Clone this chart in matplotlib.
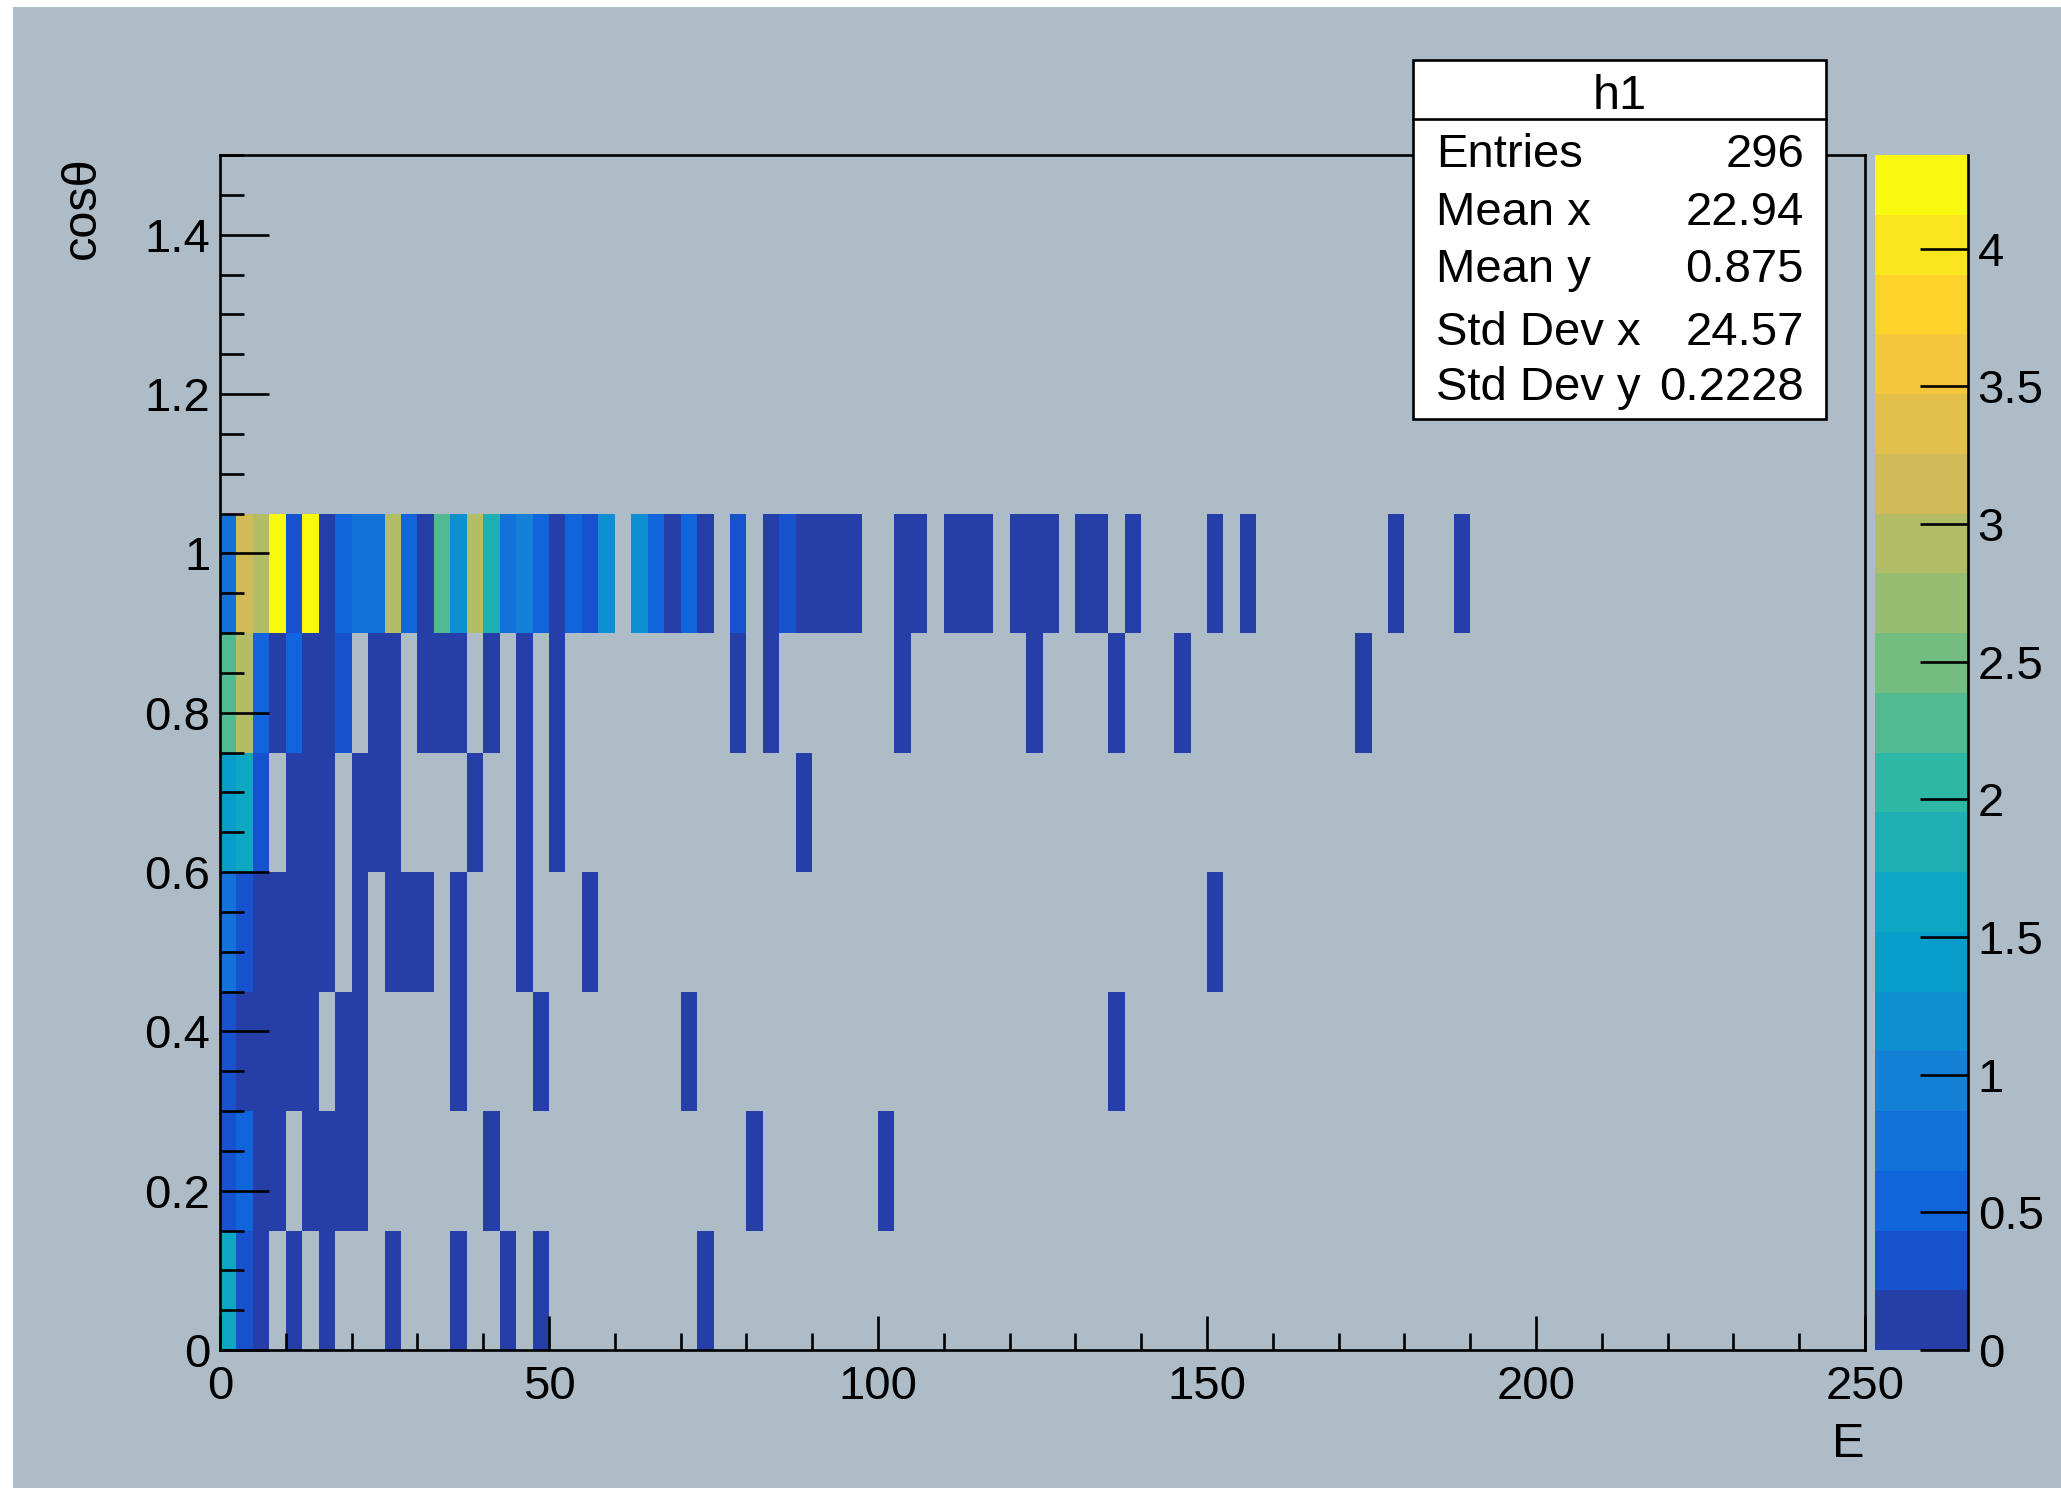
import numpy as np
import matplotlib
matplotlib.use("Agg")
import matplotlib.pyplot as plt
from matplotlib.colors import ListedColormap, BoundaryNorm
from matplotlib.patches import Rectangle
from matplotlib.lines import Line2D
from matplotlib.ticker import MultipleLocator, FuncFormatter

plt.rcParams['font.family'] = ['Liberation Sans', 'DejaVu Sans']

# ---------------- data ----------------
E_edges = np.linspace(0, 250, 101)      # 100 bins of 2.5
cos_edges = np.linspace(0, 1.5, 11)     # 10 bins of 0.15
E_bin = 2.5
z_max = 4.34                            # colour-axis maximum
n_levels = 20

# each row: lower E edge of the filled bins and the bin content
row0_cos = 0.075
row0_E = [0, 2.5, 5, 10, 15, 25, 35, 42.5, 47.5, 72.5]
row0_w = [1.6, 0.3, 0.1, 0.1, 0.1, 0.1, 0.1, 0.1, 0.1, 0.1]

row1_cos = 0.225
row1_E = [0, 2.5, 5, 7.5, 12.5, 15, 17.5, 20, 40, 80, 100]
row1_w = [0.3, 0.55, 0.1, 0.1, 0.1, 0.1, 0.1, 0.1, 0.1, 0.1, 0.1]

row2_cos = 0.375
row2_E = [0, 2.5, 5, 7.5, 10, 12.5, 17.5, 20, 35, 47.5, 70, 135]
row2_w = [0.3, 0.1, 0.1, 0.1, 0.1, 0.1, 0.1, 0.1, 0.1, 0.1, 0.1, 0.1]

row3_cos = 0.525
row3_E = [0, 2.5, 5, 7.5, 10, 12.5, 15, 20, 25, 27.5, 30, 35, 45, 55, 150]
row3_w = [0.75, 0.3, 0.1, 0.1, 0.1, 0.1, 0.1, 0.1, 0.1, 0.1, 0.1, 0.1, 0.1, 0.1, 0.1]

row4_cos = 0.675
row4_E = [0, 2.5, 5, 10, 12.5, 15, 20, 22.5, 25, 37.5, 45, 50, 87.5]
row4_w = [1.4, 1.6, 0.3, 0.1, 0.1, 0.1, 0.1, 0.1, 0.1, 0.1, 0.1, 0.1, 0.1]

row5_cos = 0.825
row5_E = [0, 2.5, 5, 7.5, 10, 12.5, 15, 17.5, 22.5, 25, 30, 32.5, 35, 40, 45, 50,
          77.5, 82.5, 102.5, 122.5, 135, 145, 172.5]
row5_w = [2.3, 2.95, 0.55, 0.1, 0.55, 0.1, 0.1, 0.3, 0.1, 0.1, 0.1, 0.1, 0.1, 0.1, 0.1, 0.1,
          0.1, 0.1, 0.1, 0.1, 0.1, 0.1, 0.1]

row6_cos = 0.975
row6_E = [0, 2.5, 5, 7.5, 10, 12.5, 15, 17.5, 20, 22.5, 25, 27.5, 30, 32.5, 35, 37.5,
          40, 42.5, 45, 47.5, 50, 52.5, 55, 57.5, 62.5, 65, 67.5, 70, 72.5, 77.5,
          82.5, 85, 87.5, 90, 92.5, 95, 102.5, 105, 110, 112.5, 115, 120, 122.5, 125,
          130, 132.5, 137.5, 150, 155, 177.5, 187.5]
row6_w = [0.75, 3.15, 2.95, 4.25, 0.3, 4.25, 0.1, 0.55, 0.75, 0.75, 2.95, 0.55, 0.1, 2.3, 1.2, 2.95,
          1.85, 0.75, 1.0, 0.55, 0.1, 0.55, 0.3, 1.2, 1.2, 0.55, 0.1, 0.55, 0.1, 0.3,
          0.1, 0.3, 0.1, 0.1, 0.1, 0.1, 0.1, 0.1, 0.1, 0.1, 0.1, 0.1, 0.1, 0.1,
          0.1, 0.1, 0.1, 0.1, 0.1, 0.1, 0.1]

stat_labels = ['Entries', 'Mean x', 'Mean y', 'Std Dev x', 'Std Dev y']
stat_values = ['296', '22.94', '0.875', '24.57', '0.2228']
hist_name = 'h1'
x_title = 'E'
y_title = 'cosθ'

# ---------------- ROOT kBird palette ----------------
bird_stops = [0.0000, 0.1250, 0.2500, 0.3750, 0.5000, 0.6250, 0.7500, 0.8750, 1.0000]
bird_r = [0.2082, 0.0592, 0.0780, 0.0232, 0.1802, 0.5301, 0.8186, 0.9956, 0.9764]
bird_g = [0.1664, 0.3599, 0.5041, 0.6419, 0.7178, 0.7492, 0.7328, 0.7862, 0.9832]
bird_b = [0.5293, 0.8684, 0.8385, 0.7914, 0.6425, 0.4662, 0.3499, 0.1968, 0.0539]


def root_gradient(stops, r, g, b, n=255):
    cols = []
    for k in range(1, len(stops)):
        ncg = int(np.floor(n * stops[k]) - np.floor(n * stops[k - 1]))
        for c in range(ncg):
            f = c / ncg
            cols.append((r[k - 1] + (r[k] - r[k - 1]) * f,
                         g[k - 1] + (g[k] - g[k - 1]) * f,
                         b[k - 1] + (b[k] - b[k - 1]) * f))
    return cols


pal = root_gradient(bird_stops, bird_r, bird_g, bird_b)
level_cols = [pal[min(int((i + 0.99) * len(pal) / n_levels), len(pal) - 1)] for i in range(n_levels)]
cmap = ListedColormap(level_cols)
norm = BoundaryNorm(np.linspace(0, z_max, n_levels + 1), n_levels)

# ---------------- assemble histogram ----------------
E_all, cos_all, w_all = [], [], []
for cv, Es, ws in [(row0_cos, row0_E, row0_w), (row1_cos, row1_E, row1_w),
                   (row2_cos, row2_E, row2_w), (row3_cos, row3_E, row3_w),
                   (row4_cos, row4_E, row4_w), (row5_cos, row5_E, row5_w),
                   (row6_cos, row6_E, row6_w)]:
    for e, w in zip(Es, ws):
        E_all.append(e + E_bin / 2)
        cos_all.append(cv)
        w_all.append(w)
H2, _, _ = np.histogram2d(E_all, cos_all, bins=[E_edges, cos_edges], weights=w_all)
Z = np.ma.masked_where(H2.T <= 0, H2.T)

# ---------------- figure ----------------
W, H = 2061, 1491
BG = '#adbcc7'
fig = plt.figure(figsize=(W / 100, H / 100), dpi=100, facecolor='white')


def fx(x):
    return x / W


def fy(y):
    return 1 - y / H


fig.add_artist(Rectangle((fx(13), fy(1488)), 1 - fx(13), (1488 - 7) / H,
                         transform=fig.transFigure, facecolor=BG, edgecolor='none', zorder=-10))

LW = 1.9
TICK_FS = 34
ax = fig.add_axes([fx(220), fy(1350), (1865 - 220) / W, (1350 - 155) / H])
ax.patch.set_visible(False)
mesh = ax.pcolormesh(E_edges, cos_edges, Z, cmap=cmap, norm=norm, shading='flat',
                     edgecolors='none', antialiased=False)
ax.set_xlim(0, 250)
ax.set_ylim(0, 1.5)
ax.xaxis.set_major_locator(MultipleLocator(50))
ax.xaxis.set_minor_locator(MultipleLocator(10))
ax.yaxis.set_major_locator(MultipleLocator(0.2))
ax.yaxis.set_minor_locator(MultipleLocator(0.05))
fmt = FuncFormatter(lambda v, _: f'{v:g}')
ax.xaxis.set_major_formatter(fmt)
ax.yaxis.set_major_formatter(fmt)
ax.tick_params(axis='x', which='major', direction='in', length=24.5, width=LW, top=False,
               pad=11, labelsize=TICK_FS)
ax.tick_params(axis='x', which='minor', direction='in', length=12, width=LW, top=False)
ax.tick_params(axis='y', which='major', direction='in', length=35, width=LW, right=False,
               pad=7, labelsize=TICK_FS)
ax.tick_params(axis='y', which='minor', direction='in', length=17.5, width=LW, right=False)
for s in ax.spines.values():
    s.set_linewidth(LW)

# colour bar
cax = fig.add_axes([fx(1875), fy(1350), (1968 - 1875) / W, (1350 - 155) / H])
cb = fig.colorbar(mesh, cax=cax, ticks=np.arange(0, 4.01, 0.5))
cb.outline.set_visible(False)
cb.minorticks_off()
cax.yaxis.set_major_formatter(fmt)
cax.tick_params(axis='y', direction='in', length=34.5, width=LW, right=True, left=False,
                labelright=True, labelleft=False, labelsize=TICK_FS, pad=7)
cax.plot([1, 1], [0, 1], transform=cax.transAxes, color='black', lw=LW, clip_on=False)

# axis titles
fig.text(fx(82), fy(156), y_title, rotation=90, ha='center', va='top', fontsize=35)
fig.text(fx(1864), fy(1457), x_title, ha='right', va='baseline', fontsize=35)

# stats box
fig.add_artist(Rectangle((fx(1413), fy(419)), (1826 - 1413) / W, (419 - 60) / H,
                         transform=fig.transFigure, facecolor='white', edgecolor='black',
                         lw=LW, zorder=10))
fig.add_artist(Line2D([fx(1413), fx(1826)], [fy(119), fy(119)], transform=fig.transFigure,
                      color='black', lw=LW, zorder=11))
fig.text(fx(1619.5), fy(109), hist_name, ha='center', va='baseline', fontsize=35, zorder=12)
baselines = [166.7, 225, 281.7, 345, 400]
for lab, val, yb in zip(stat_labels, stat_values, baselines):
    fig.text(fx(1436), fy(yb), lab, ha='left', va='baseline', fontsize=34, zorder=12)
    fig.text(fx(1804), fy(yb), val, ha='right', va='baseline', fontsize=34, zorder=12)

fig.savefig('out.png', dpi=100, facecolor='white')
